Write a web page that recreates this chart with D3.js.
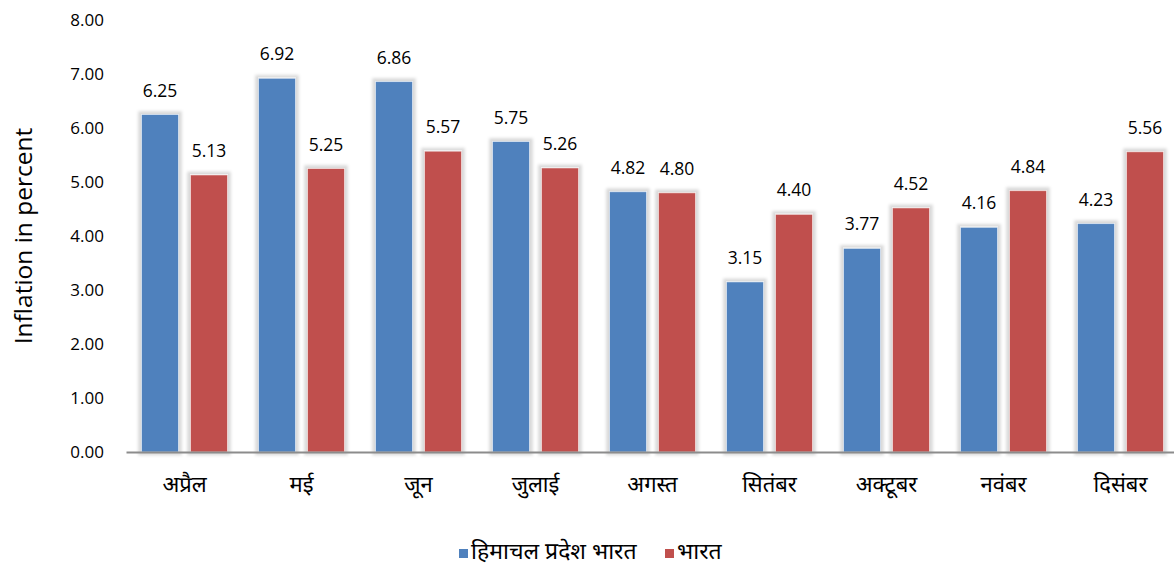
<!DOCTYPE html>
<html>
<head>
<meta charset="utf-8">
<script src="https://cdn.jsdelivr.net/npm/d3@7"></script>
<style>
  html, body { margin: 0; padding: 0; background: #fff; }
  svg { display: block; font-family: "Open Sans", "Noto Sans", sans-serif; }
</style>
</head>
<body>
<svg id="chart" width="1174" height="569"></svg>
<script>
// Monthly inflation: Himachal Pradesh vs India
const months = ["अप्रैल", "मई", "जून", "जुलाई", "अगस्त", "सितंबर", "अक्टूबर", "नवंबर", "दिसंबर"];
const himachal = [6.25, 6.92, 6.86, 5.75, 4.82, 3.15, 3.77, 4.16, 4.23];
const india = [5.13, 5.25, 5.57, 5.26, 4.80, 4.40, 4.52, 4.84, 5.56];
const seriesNames = ["हिमाचल प्रदेश भारत", "भारत"];
const seriesColors = ["#4F81BD", "#C0504D"];
const yTicks = [0, 1, 2, 3, 4, 5, 6, 7, 8];
const yTitle = "Inflation in percent";

const svg = d3.select("#chart");
const margin = { left: 126, right: -5, top: 20, bottom: 117 };
const W = 1174, H = 569;

const x = d3.scaleBand()
  .domain(months)
  .range([margin.left, W - margin.right])
  .paddingInner(0)
  .paddingOuter(0);

const y = d3.scaleLinear()
  .domain([0, 8])
  .range([H - margin.bottom, margin.top]);

// soft halo around the bars
const defs = svg.append("defs");
const f = defs.append("filter").attr("id", "glow")
  .attr("x", "-30%").attr("y", "-10%").attr("width", "160%").attr("height", "120%");
f.append("feMorphology").attr("in", "SourceAlpha").attr("operator", "dilate").attr("radius", 2.5).attr("result", "d");
f.append("feGaussianBlur").attr("in", "d").attr("stdDeviation", 1.5).attr("result", "b");
f.append("feFlood").attr("flood-color", "#000").attr("flood-opacity", 0.15);
f.append("feComposite").attr("in2", "b").attr("operator", "in").attr("result", "s");
const m = f.append("feMerge");
m.append("feMergeNode").attr("in", "s");
m.append("feMergeNode").attr("in", "SourceGraphic");

// y axis tick labels (no line)
const yAxis = d3.axisLeft(y).tickValues(yTicks).tickFormat(d3.format(".2f")).tickSize(0).tickPadding(0);
const gy = svg.append("g").attr("transform", "translate(104,0)").call(yAxis);
gy.select(".domain").remove();
gy.selectAll("text").attr("font-size", 17).attr("fill", "#000")
  .attr("font-family", "'Open Sans', sans-serif");

// y title
svg.append("text")
  .attr("transform", `translate(25,${(y(0) + y(8)) / 2}) rotate(-90)`)
  .attr("text-anchor", "middle")
  .attr("dominant-baseline", "middle")
  .attr("font-size", 24.5)
  .attr("fill", "#000")
  .text(yTitle);

const barW = 37, gap = 12;
const data = [himachal, india];

const groups = svg.append("g");
data.forEach((vals, si) => {
  const offset = si === 0 ? -(gap / 2 + barW) : gap / 2;
  const rows = vals.map((v, i) => ({ v, m: months[i] }));
  groups.selectAll(null)
    .data(rows)
    .enter()
    .append("rect")
    .attr("x", d => x(d.m) + x.bandwidth() / 2 + offset)
    .attr("y", d => y(d.v))
    .attr("width", barW)
    .attr("height", d => y(0) - y(d.v))
    .attr("fill", seriesColors[si])
    .attr("stroke", "#ffffff")
    .attr("stroke-opacity", 0.5)
    .attr("stroke-width", 1)
    .attr("filter", "url(#glow)");

  groups.selectAll(null)
    .data(rows)
    .enter()
    .append("text")
    .attr("x", d => x(d.m) + x.bandwidth() / 2 + offset + barW / 2)
    .attr("y", d => y(d.v) - 18)
    .attr("text-anchor", "middle")
    .attr("font-size", 17.5)
    .attr("fill", "#000")
    .text(d => d.v.toFixed(2));
});

// x axis
const xAxis = d3.axisBottom(x).tickSize(0).tickPadding(24);
const gx = svg.append("g").attr("transform", `translate(0,${y(0)})`).call(xAxis);
gx.select(".domain").attr("stroke", "#8c8c8c").attr("stroke-width", 2);
gx.selectAll("text").attr("font-size", 22).attr("fill", "#000")
  .attr("font-family", "'Noto Sans', sans-serif");

// legend
const legend = svg.append("g");
const legendItems = [
  { name: seriesNames[0], color: seriesColors[0], x: 459 },
  { name: seriesNames[1], color: seriesColors[1], x: 665 }
];
legendItems.forEach(it => {
  legend.append("rect").attr("x", it.x).attr("y", 549).attr("width", 9).attr("height", 9).attr("fill", it.color);
  legend.append("text").attr("x", it.x + 12).attr("y", 553)
    .attr("dominant-baseline", "middle")
    .attr("font-size", 23).attr("fill", "#000")
    .attr("font-family", "'Noto Sans', sans-serif")
    .text(it.name);
});
</script>
</body>
</html>
